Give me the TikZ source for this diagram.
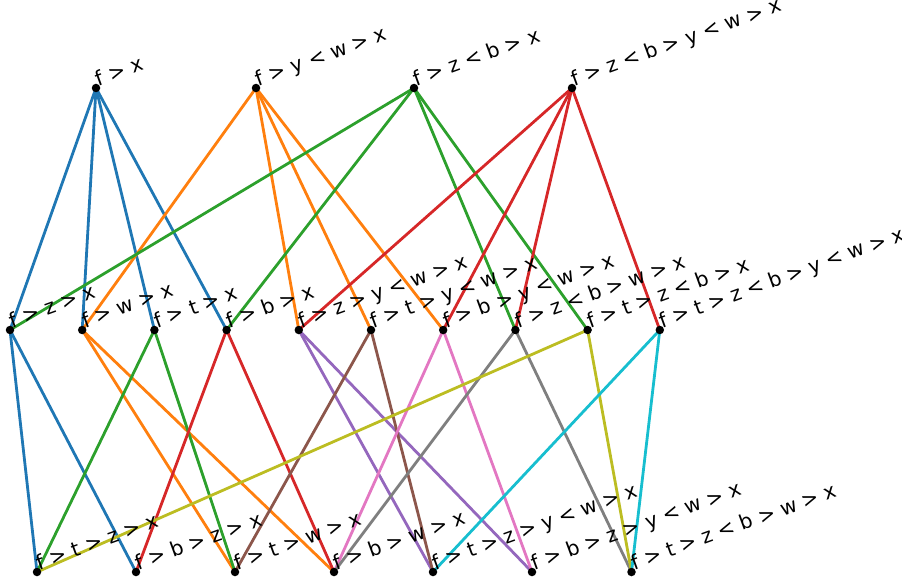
\documentclass[tikz,border=0pt]{standalone}
\usepackage{fontspec}
\setmainfont{DejaVu Sans}
\definecolor{tBlue}{HTML}{1F77B4}
\definecolor{tOrange}{HTML}{FF7F0E}
\definecolor{tGreen}{HTML}{2CA02C}
\definecolor{tRed}{HTML}{D62728}
\definecolor{tPurple}{HTML}{9467BD}
\definecolor{tBrown}{HTML}{8C564B}
\definecolor{tPink}{HTML}{E377C2}
\definecolor{tGray}{HTML}{7F7F7F}
\definecolor{tOlive}{HTML}{BCBD22}
\definecolor{tCyan}{HTML}{17BECF}
\begin{document}
\begin{tikzpicture}[x=1pt,y=-1pt,
  dot/.style={circle,fill=black,inner sep=0pt,minimum size=8.5pt},
  lab/.style={rotate=20,anchor=base west,inner sep=0pt,font=\fontsize{20.3}{22}\selectfont,xshift=3pt,yshift=0.5pt},
  edge/.style={line width=2.8pt}]
\useasboundingbox (0,0) rectangle (902,583);
% top row
\foreach \n/\x in {a/96, b/256, c/414, d/572}
  {\coordinate (\n) at (\x,88);}
% middle row
\foreach \n/\x in {m1/10, m2/82.2, m3/154.4, m4/226.6, m5/298.8, m6/371, m7/443.2, m8/515.4, m9/587.6, m10/659.8}
  {\coordinate (\n) at (\x,330);}
% bottom row
\foreach \n/\x in {b1/37, b2/136, b3/235, b4/334, b5/433, b6/532, b7/631.5}
  {\coordinate (\n) at (\x,572);}
% edges top-middle
\foreach \s/\tt/\c in {a/m1/tBlue, a/m2/tBlue, a/m3/tBlue, a/m4/tBlue,
  b/m2/tOrange, b/m5/tOrange, b/m6/tOrange, b/m7/tOrange,
  c/m1/tGreen, c/m4/tGreen, c/m8/tGreen, c/m9/tGreen,
  d/m5/tRed, d/m7/tRed, d/m8/tRed, d/m10/tRed}
  {\draw[edge,\c] (\s) -- (\tt);}
% edges middle-bottom
\foreach \s/\tt/\c in {m1/b1/tBlue, m1/b2/tBlue, m2/b3/tOrange, m2/b4/tOrange,
  m3/b1/tGreen, m3/b3/tGreen, m4/b2/tRed, m4/b4/tRed,
  m5/b5/tPurple, m5/b6/tPurple, m6/b3/tBrown, m6/b5/tBrown,
  m7/b4/tPink, m7/b6/tPink, m8/b4/tGray, m8/b7/tGray,
  m9/b1/tOlive, m9/b7/tOlive, m10/b5/tCyan, m10/b7/tCyan}
  {\draw[edge,\c] (\s) -- (\tt);}
% dots and labels
\foreach \n/\t in {a/{f > x}, b/{f > y < w > x}, c/{f > z < b > x}, d/{f > z < b > y < w > x},
  m1/{f > z > x}, m2/{f > w > x}, m3/{f > t > x}, m4/{f > b > x}, m5/{f > z > y < w > x},
  m6/{f > t > y < w > x}, m7/{f > b > y < w > x}, m8/{f > z < b > w > x}, m9/{f > t > z < b > x},
  m10/{f > t > z < b > y < w > x},
  b1/{f > t > z > x}, b2/{f > b > z > x}, b3/{f > t > w > x}, b4/{f > b > w > x},
  b5/{f > t > z > y < w > x}, b6/{f > b > z > y < w > x}, b7/{f > t > z < b > w > x}}
  {\node[dot] (\n-dot) at (\n) {};
   \node[lab] (\n-lab) at (\n) {\t};}
\end{tikzpicture}
\end{document}
